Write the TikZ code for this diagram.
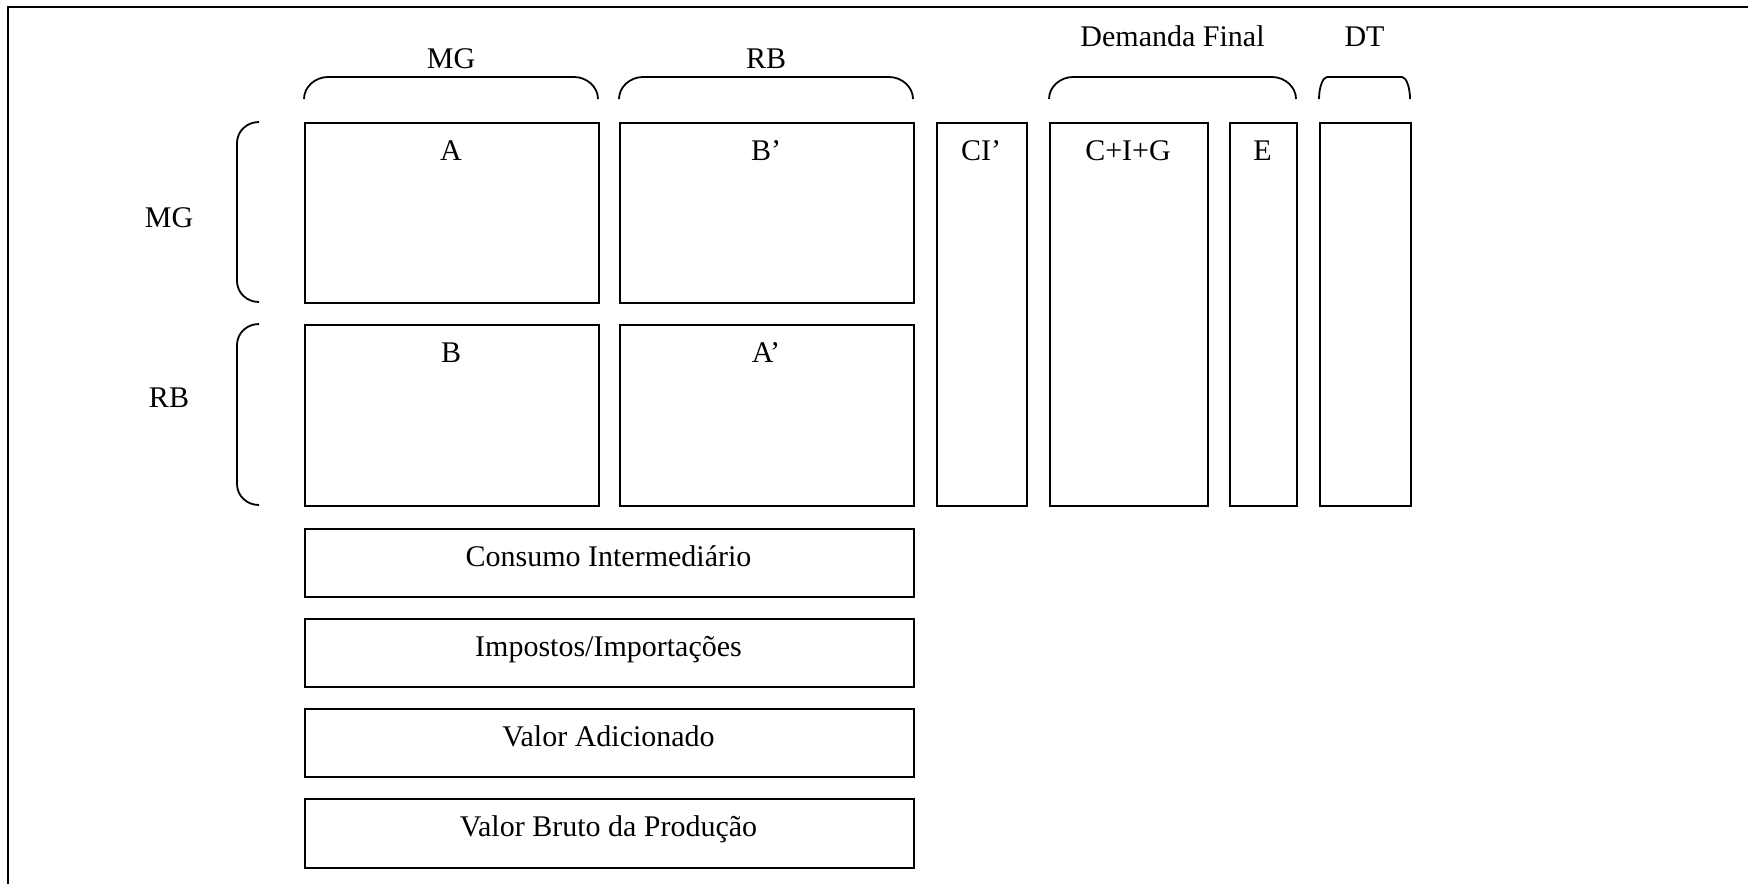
\documentclass[tikz,border=0pt]{standalone}
\usepackage{fontspec}
\setmainfont{Liberation Serif}
\begin{document}
\begin{tikzpicture}[x=0.5pt,y=-0.5pt,
  box/.style={draw,line width=0.9pt,inner sep=0pt,anchor=north west},
  lbl/.style={anchor=base,inner sep=0pt,font=\fontsize{15}{18}\selectfont},
  brace/.style={draw,line width=0.9pt},
  frameline/.style={draw,line width=1pt}]
\useasboundingbox (0,0) rectangle (1748,884);
% frame (only top and left edges visible)
\coordinate (fbl) at (8,884);
\coordinate (ftl) at (8,7);
\coordinate (ftr) at (1748,7);
\draw[frameline] (fbl) -- (ftl) -- (ftr);

% main blocks
\node[box,minimum width=147pt,minimum height=90pt] (A) at (304,122) {};
\node[box,minimum width=147pt,minimum height=90pt] (Bp) at (619,122) {};
\node[box,minimum width=147pt,minimum height=90.5pt] (B) at (304,324) {};
\node[box,minimum width=147pt,minimum height=90.5pt] (Ap) at (619,324) {};
\node[box,minimum width=45pt,minimum height=191.5pt] (CI) at (936,122) {};
\node[box,minimum width=79pt,minimum height=191.5pt] (CIG) at (1049,122) {};
\node[box,minimum width=33.5pt,minimum height=191.5pt] (E) at (1229,122) {};
\node[box,minimum width=45.5pt,minimum height=191.5pt] (DT) at (1319,122) {};

% bottom rows
\node[box,minimum width=304.5pt,minimum height=34pt] (cons) at (304,528) {};
\node[box,minimum width=304.5pt,minimum height=34pt] (imp) at (304,618) {};
\node[box,minimum width=304.5pt,minimum height=34pt] (va) at (304,708) {};
\node[box,minimum width=304.5pt,minimum height=34.5pt] (vbp) at (304,798) {};

% labels inside boxes
\node[lbl] (lA) at (451,160) {A};
\node[lbl] (lBp) at (766,160) {B’};
\node[lbl] (lB) at (451,362) {B};
\node[lbl] (lAp) at (766,362) {A’};
\node[lbl] (lCI) at (981,160) {CI’};
\node[lbl] (lCIG) at (1128,160) {C+I+G};
\node[lbl] (lE) at (1262.5,160) {E};
\node[lbl] (lcons) at (608.5,566) {Consumo Intermediário};
\node[lbl] (limp) at (608.5,656) {Impostos/Importações};
\node[lbl] (lva) at (608.5,746) {Valor Adicionado};
\node[lbl] (lvbp) at (608.5,836) {Valor Bruto da Produção};

% header labels
\node[lbl] (hMG) at (451,68) {MG};
\node[lbl] (hRB) at (766,68) {RB};
\node[lbl] (hDF) at (1172.5,46) {Demanda Final};
\node[lbl] (hDT) at (1364.5,46) {DT};
\node[lbl] (vMG) at (169,227) {MG};
\node[lbl] (vRB) at (169,407) {RB};

% top braces
\draw[brace] (304,99) .. controls (304,87) and (315,77) .. (328,77) -- (574,77) .. controls (587,77) and (598,87) .. (598,99);
\draw[brace] (619,99) .. controls (619,87) and (630,77) .. (643,77) -- (889,77) .. controls (902,77) and (913,87) .. (913,99);
\draw[brace] (1049,99) .. controls (1049,87) and (1060,77) .. (1073,77) -- (1272,77) .. controls (1285,77) and (1296,87) .. (1296,99);
\draw[brace] (1319,99) .. controls (1319,87) and (1323,77) .. (1327,77) -- (1402,77) .. controls (1406,77) and (1410,87) .. (1410,99);

% left braces
\draw[brace] (259,122) .. controls (247,122) and (237,131) .. (237,143) -- (237,281) .. controls (237,293) and (247,302) .. (259,302);
\draw[brace] (259,324) .. controls (247,324) and (237,333) .. (237,345) -- (237,484) .. controls (237,496) and (247,505) .. (259,505);
\end{tikzpicture}
\end{document}
